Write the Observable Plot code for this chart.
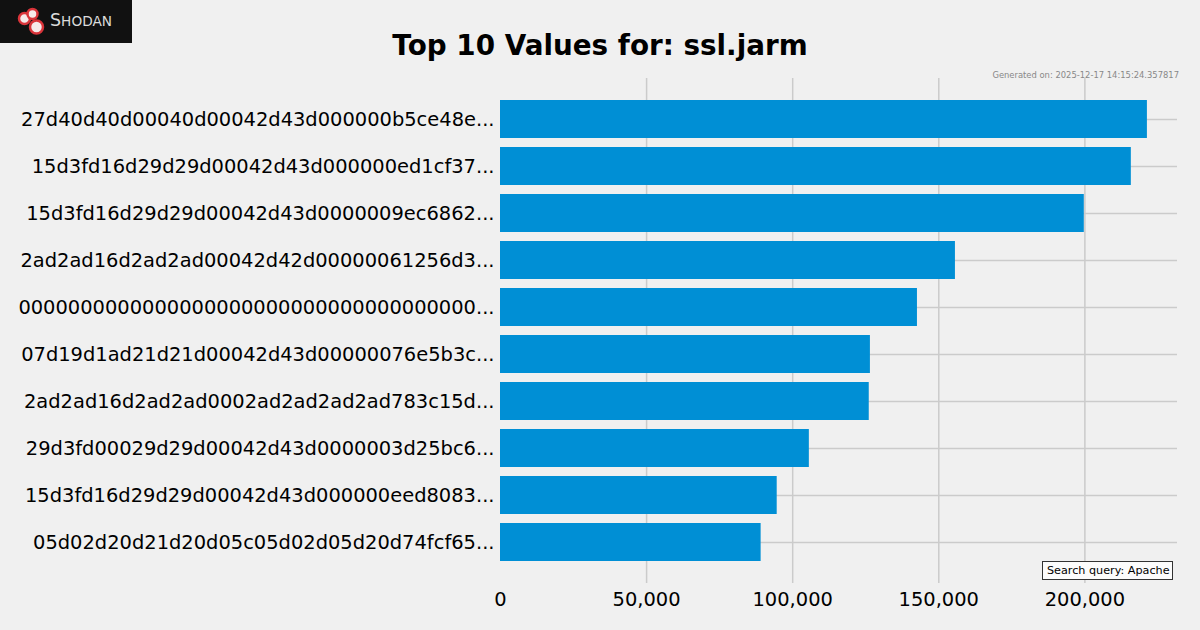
<!DOCTYPE html>
<html>
<head>
<meta charset="utf-8">
<script src="https://cdn.jsdelivr.net/npm/d3@7"></script>
<script src="https://cdn.jsdelivr.net/npm/@observablehq/plot@0.6"></script>
<style>
  html, body { margin: 0; padding: 0; background: #f0f0f0; }
  #wrap { position: relative; width: 1200px; height: 630px; overflow: hidden; background: #f0f0f0; font-family: "DejaVu Sans", sans-serif; }
  #title { position: absolute; left: 0; top: 0; width: 1200px; height: 78px; text-align: center; font-weight: bold; font-size: 27.8px; line-height: 1; color: #000; }
  #title span { position: absolute; left: 0; right: 0; top: 32px; }
  #chart { position: absolute; left: 0; top: 78px; }
  #logo { position: absolute; left: 0; top: 0; width: 132px; height: 43px; }
  #gen { position: absolute; right: 21px; top: 70px; font-size: 8.4px; color: #888; }
  #query { position: absolute; left: 1042px; top: 561px; width: 125px; height: 17px; border: 1px solid #333; background: #fcfcfc; font-size: 11.2px; line-height: 17px; padding-left: 4px; box-sizing: content-box; color: #000; }
</style>
</head>
<body>
<div id="wrap">
  <div id="title"><span>Top 10 Values for: ssl.jarm</span></div>
  <svg id="logo" width="132" height="43" viewBox="0 0 132 43">
    <rect x="0" y="0" width="132" height="43" fill="#111"/>
    <circle cx="24.5" cy="18.5" r="5.5" fill="#f6eaea" stroke="#d9343a" stroke-width="2.5"/>
    <circle cx="32.5" cy="14" r="5" fill="#f6eaea" stroke="#d9343a" stroke-width="2.5"/>
    <circle cx="36.5" cy="27" r="6.5" fill="#f6eaea" stroke="#d9343a" stroke-width="2.5"/>
    <text x="50" y="26" fill="#dcdcdc" font-family="DejaVu Sans"><tspan font-size="17.5">S</tspan><tspan font-size="13.7">HODAN</tspan></text>
  </svg>
  <div id="gen">Generated on: 2025-12-17 14:15:24.357817</div>
  <div id="chart"></div>
  <div id="query">Search query: Apache</div>
</div>
<script>
const labels = [
  "27d40d40d00040d00042d43d000000b5ce48e...",
  "15d3fd16d29d29d00042d43d000000ed1cf37...",
  "15d3fd16d29d29d00042d43d0000009ec6862...",
  "2ad2ad16d2ad2ad00042d42d00000061256d3...",
  "0000000000000000000000000000000000000...",
  "07d19d1ad21d21d00042d43d00000076e5b3c...",
  "2ad2ad16d2ad2ad0002ad2ad2ad2ad783c15d...",
  "29d3fd00029d29d00042d43d0000003d25bc6...",
  "15d3fd16d29d29d00042d43d000000eed8083...",
  "05d02d20d21d20d05c05d02d05d20d74fcf65..."
];
const counts = [221400, 215900, 199800, 155700, 142700, 126600, 126200, 105700, 94700, 89200];
const xTicks = [0, 50000, 100000, 150000, 200000];
const gridTicks = [50000, 100000, 150000, 200000];

const data = labels.map((l, i) => ({label: l, count: counts[i]}));

const chart = Plot.plot({
  width: 1200,
  height: 552,
  marginLeft: 500,
  marginRight: 23,
  marginTop: 0,
  marginBottom: 47,
  style: {fontFamily: "DejaVu Sans", fontSize: "19.44px", background: "transparent", color: "#000", overflow: "visible"},
  x: {domain: [0, 231700], ticks: xTicks, tickFormat: d3.format(","), tickSize: 0, tickPadding: 8.5, label: null},
  y: {domain: labels, paddingInner: 0.2, paddingOuter: 0.445, tickSize: 0, tickPadding: 6, label: null},
  marks: [
    Plot.ruleX(gridTicks, {stroke: "#cbcbcb", strokeWidth: 1.5}),
    Plot.ruleY(labels, {y: d => d, stroke: "#cbcbcb", strokeWidth: 1.5}),
    Plot.barX(data, {x: "count", y: "label", fill: "#008fd5"}),
    Plot.axisX({ticks: xTicks, tickFormat: d3.format(","), tickSize: 0, tickPadding: 8.5, label: null}),
    Plot.axisY({tickSize: 0, tickPadding: 6, label: null})
  ]
});
document.getElementById("chart").appendChild(chart);
</script>
</body>
</html>
